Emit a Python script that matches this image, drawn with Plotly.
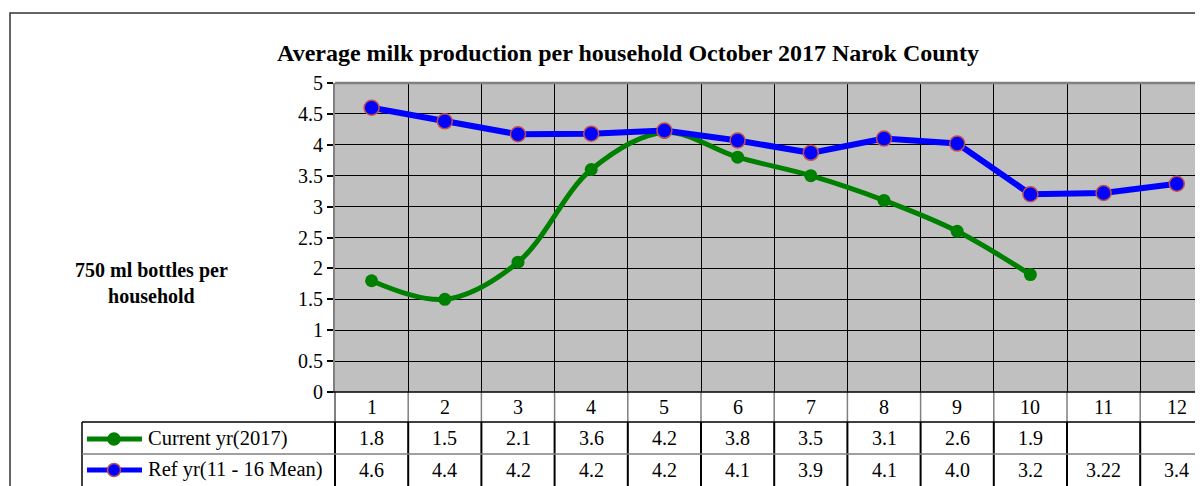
import plotly.graph_objects as go

months = [1, 2, 3, 4, 5, 6, 7, 8, 9, 10, 11, 12]
current_yr = [1.8, 1.5, 2.1, 3.6, 4.2, 3.8, 3.5, 3.1, 2.6, 1.9, None, None]
ref_yr = [4.6, 4.38, 4.17, 4.18, 4.23, 4.07, 3.87, 4.1, 4.02, 3.2, 3.22, 3.37]
current_txt = ["1.8", "1.5", "2.1", "3.6", "4.2", "3.8", "3.5", "3.1", "2.6", "1.9", "", ""]
ref_txt = ["4.6", "4.4", "4.2", "4.2", "4.2", "4.1", "3.9", "4.1", "4.0", "3.2", "3.22", "3.4"]
series_names = ["Current yr(2017)", "Ref yr(11 - 16 Mean)"]

FONT = "Times New Roman, Liberation Serif, serif"
OFF = 8                      # page body margin
W, H = 1203 - OFF, 486 - OFF
# plot area in window pixels
L, R, T, B = 335, 1203, 83, 392
col_w = 73.2

def px(x):
    return (x - L) / (R - L)

def py(y):
    return (B - y) / (B - T)

fig = go.Figure()
fig.add_trace(go.Scatter(x=months, y=current_yr, mode="lines+markers", name=series_names[0],
                         line=dict(color="#008000", width=5, shape="spline", smoothing=1),
                         marker=dict(color="#008000", size=13), showlegend=False))
fig.add_trace(go.Scatter(x=months, y=ref_yr, mode="lines+markers", name=series_names[1],
                         line=dict(color="#0000FF", width=6),
                         marker=dict(color="#0000FF", size=15, line=dict(color="#C0504D", width=1.5)),
                         showlegend=False))

shapes = []
row1, row2, row_end = 422, 454, 520
# vertical separators between columns
for m in months:
    xb = m + 0.5
    shapes.append(dict(type="line", xref="x", yref="paper", x0=xb, x1=xb, y0=0, y1=py(row1),
                       line=dict(color="#808080", width=1.5)))
    shapes.append(dict(type="line", xref="x", yref="paper", x0=xb, x1=xb, y0=py(row1), y1=py(row_end),
                       line=dict(color="black", width=2)))
shapes.append(dict(type="line", xref="paper", yref="paper", x0=0, x1=0, y0=0, y1=py(row1),
                   line=dict(color="#808080", width=2)))
shapes.append(dict(type="line", xref="paper", yref="paper", x0=0, x1=0, y0=py(row1), y1=py(row_end),
                   line=dict(color="black", width=2)))
shapes.append(dict(type="line", xref="paper", yref="paper", x0=px(82), x1=px(82), y0=py(row1), y1=py(row_end),
                   line=dict(color="black", width=1.5)))
shapes.append(dict(type="line", xref="paper", yref="paper", x0=px(82), x1=1.02, y0=py(row1), y1=py(row1),
                   line=dict(color="black", width=1.5)))
shapes.append(dict(type="line", xref="paper", yref="paper", x0=px(82), x1=1.02, y0=py(row2), y1=py(row2),
                   line=dict(color="#808080", width=1.5)))
shapes.append(dict(type="line", xref="paper", yref="paper", x0=px(329), x1=1.02, y0=0, y1=0,
                   line=dict(color="black", width=1.5)))
shapes.append(dict(type="line", xref="paper", yref="paper", x0=0, x1=1.02, y0=1, y1=1,
                   line=dict(color="#808080", width=2.5)))
# outer chart border
shapes.append(dict(type="rect", xref="paper", yref="paper", x0=px(10), x1=px(1250), y0=py(13), y1=py(560),
                   line=dict(color="#333333", width=1.5)))

# legend keys in the table
key_colors = [("#008000", "#008000", 12), ("#0000FF", "#C0504D", 13)]
for (lc, mc, ms), yc in zip(key_colors, [439, 470]):
    shapes.append(dict(type="line", xref="paper", yref="paper", x0=px(87), x1=px(142), y0=py(yc), y1=py(yc),
                       line=dict(color=lc, width=5)))
    shapes.append(dict(type="circle", xref="paper", yref="paper", xsizemode="pixel", ysizemode="pixel",
                       xanchor=px(114), yanchor=py(yc), x0=-ms / 2, x1=ms / 2, y0=-ms / 2, y1=ms / 2,
                       fillcolor=lc, line=dict(color=mc, width=1.5)))

annotations = []
tf = dict(family=FONT, size=20, color="black")
for m, c, r in zip(months, current_txt, ref_txt):
    annotations.append(dict(x=m, y=py(407), xref="x", yref="paper", text=str(m), showarrow=False,
                            xanchor="center", yanchor="middle", font=tf))
    if c:
        annotations.append(dict(x=m, y=py(438), xref="x", yref="paper", text=c, showarrow=False,
                                xanchor="center", yanchor="middle", font=tf))
    annotations.append(dict(x=m, y=py(470), xref="x", yref="paper", text=r, showarrow=False,
                            xanchor="center", yanchor="middle", font=tf))
for name, yc in zip(series_names, [438, 469]):
    annotations.append(dict(x=px(146), y=py(yc), xref="paper", yref="paper", xanchor="left", yanchor="middle",
                            text=name, showarrow=False, font=dict(family=FONT, size=20.5, color="black")))
annotations.append(dict(x=px(151), y=py(283), xref="paper", yref="paper", xanchor="center", yanchor="middle",
                        text="<b>750 ml bottles per<br>household</b>", showarrow=False,
                        font=dict(family=FONT, size=20, color="black")))

fig.update_layout(
    width=W, height=H,
    margin=dict(l=L - OFF, r=1203 - R, t=T - OFF, b=486 - B),
    paper_bgcolor="white", plot_bgcolor="#C0C0C0",
    title=dict(text="<b>Average milk production per household October 2017 Narok County</b>",
               x=(628 - OFF) / W, y=1 - (53 - OFF) / H, xanchor="center", yanchor="middle",
               font=dict(family=FONT, size=24, color="black")),
    shapes=shapes, annotations=annotations,
)
fig.update_xaxes(range=[0.5, 0.5 + (R - L) / col_w], tickvals=[m + 0.5 for m in months[:-1]],
                 showticklabels=False, ticks="", showgrid=True, gridcolor="black", gridwidth=1,
                 zeroline=False, showline=False)
fig.update_yaxes(range=[0, 5], dtick=0.5, ticks="outside", ticklen=6, tickcolor="black",
                 tickwidth=1.5, showgrid=True, gridcolor="black", gridwidth=1, zeroline=False,
                 showline=True, linecolor="#808080", linewidth=2,
                 tickfont=dict(family=FONT, size=20, color="black"))

fig.write_html("out.html")
